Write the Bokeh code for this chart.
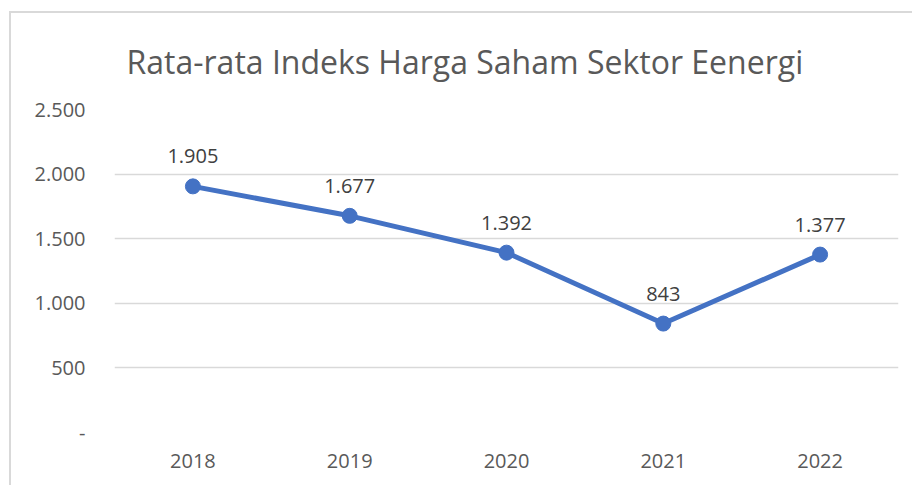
from bokeh.plotting import figure
from bokeh.models import ColumnDataSource, FixedTicker, LabelSet, FactorRange, Range1d
from bokeh.core.properties import value
from bokeh.embed import file_html
from bokeh.resources import INLINE

years = ["2018", "2019", "2020", "2021", "2022"]
values = [1905, 1677, 1392, 843, 1377]
value_labels = ["1.905", "1.677", "1.392", "843", "1.377"]
y_ticks = [0, 500, 1000, 1500, 2000, 2500]
y_tick_labels = ["-", "500", "1.000", "1.500", "2.000", "2.500"]
title_text = "Rata-rata Indeks Harga Saham Sektor Eenergi"

FONT = "Open Sans"

src = ColumnDataSource(dict(x=years, y=values, lab=value_labels))

p = figure(width=901, height=472, x_range=FactorRange(*years, range_padding=0),
           y_range=Range1d(0, 2500), output_backend="svg", toolbar_location=None,
           min_border_left=103, min_border_right=16, min_border_top=96, min_border_bottom=55,
           title=title_text)
p.styles = {"margin-left": "9px", "margin-top": "11px",
            "border-left": "2px solid #d9d9d9", "border-top": "2px solid #d9d9d9",
            "box-sizing": "content-box"}
p.outline_line_color = None
p.background_fill_color = "white"
p.border_fill_color = "white"

p.title.text_font = FONT
p.title.text_font_size = "32px"
p.title.text_font_style = "normal"
p.title.text_color = "#595959"
p.title.align = "left"
p.title.vertical_align = "top"
p.title.offset = 12
p.title.standoff = 50

p.xgrid.grid_line_color = None
p.ygrid.grid_line_color = "#d9d9d9"
p.ygrid.grid_line_width = 1.5
p.yaxis.ticker = FixedTicker(ticks=y_ticks)
p.yaxis.major_label_overrides = {t: l for t, l in zip(y_ticks, y_tick_labels)}

for ax in (p.xaxis, p.yaxis):
    ax.axis_line_color = None
    ax.major_tick_line_color = None
    ax.minor_tick_line_color = None
    ax.major_tick_out = 0
    ax.major_tick_in = 0
    ax.major_label_text_font = FONT
    ax.major_label_text_font_size = "20px"
    ax.major_label_text_color = "#595959"
p.yaxis.major_label_standoff = 29
p.xaxis.major_label_standoff = 21

p.line("x", "y", source=src, line_color="#4472C4", line_width=5)
p.scatter("x", "y", source=src, size=15, fill_color="#4472C4", line_color="#4472C4")

labels = LabelSet(x="x", y="y", text="lab", source=src, y_offset=30,
                  text_align="center", text_baseline="middle",
                  text_font=value(FONT), text_font_size=value("20px"), text_color="#404040")
p.add_layout(labels)

open("out.html", "w").write(file_html(p, INLINE))
